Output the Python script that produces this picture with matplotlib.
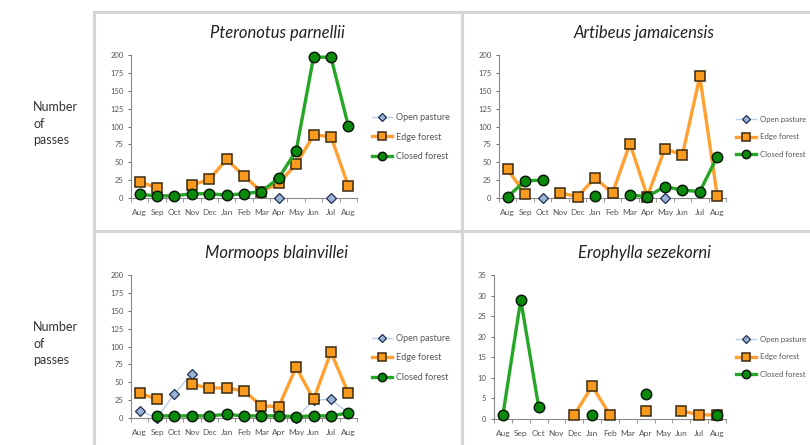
import numpy as np
import matplotlib
matplotlib.use("Agg")
import matplotlib.pyplot as plt
from matplotlib.lines import Line2D

nan = np.nan
months = ["Aug", "Sep", "Oct", "Nov", "Dec", "Jan", "Feb", "Mar", "Apr", "May", "Jun", "Jul", "Aug"]
series_names = ["Open pasture", "Edge forest", "Closed forest"]

# Pteronotus parnellii
pp_open = [nan, nan, nan, nan, nan, nan, nan, nan, 0, nan, nan, 0, nan]
pp_edge = [23, 14, nan, 18, 26, 54, 31, 9, 21, 47, 88, 86, 17]
pp_closed = [5, 3, 3, 6, 6, 4, 6, 9, 28, 66, 197, 197, 101]

# Artibeus jamaicensis
aj_open = [nan, nan, 0, nan, nan, nan, nan, nan, nan, 0, nan, nan, nan]
aj_edge = [40, 5, nan, 7, 2, 28, 7, 76, 2, 69, 60, 170, 3]
aj_closed = [2, 24, 25, nan, nan, 3, nan, 4, 2, 16, 11, 9, 58]

# Mormoops blainvillei
mb_open = [10, 0, 34, 62, nan, nan, nan, nan, nan, 0, 25, 26, 7]
mb_edge = [35, 26, nan, 47, 42, 42, 38, 17, 16, 71, 26, 92, 35]
mb_closed = [nan, 3, 3, 3, 3, 5, 3, 3, 3, 2, 3, 3, 7]

# Erophylla sezekorni
es_open = [nan] * 13
es_edge = [nan, nan, nan, nan, 1, 8, 1, nan, 2, nan, 2, 1, 1]
es_closed = [1, 29, 3, nan, nan, 1, nan, nan, 6, nan, nan, nan, 1]

titles = ["Pteronotus parnellii", "Artibeus jamaicensis", "Mormoops blainvillei", "Erophylla sezekorni"]

W, H = 810, 445
fig = plt.figure(figsize=(W / 100, H / 100), dpi=100)
fig.patch.set_facecolor("white")
FONT = "Lato"

def px_axes(left, top, right, bottom):
    return fig.add_axes([left / W, 1 - bottom / H, (right - left) / W, (bottom - top) / H])

# panel borders
border_col = "#d6d6d6"
for (x0, y0, x1, y1) in [(93.5, 12, 93.5, 445), (461.5, 12, 461.5, 445), (93.5, 12, 810, 12), (93.5, 231.5, 810, 231.5)]:
    fig.add_artist(Line2D([x0 / W, x1 / W], [1 - y0 / H, 1 - y1 / H], color=border_col, lw=2.2))

styles = [
    dict(color="#b8cde6", lw=1.0, marker="D", ms=5.5, mfc="#9bb3d4", mec="#1f2f55", mew=0.9),
    dict(color="#ffa030", lw=2.4, marker="s", ms=7, mfc="#f79a1e", mec="#3b2a10", mew=1.1),
    dict(color="#26a626", lw=2.4, marker="o", ms=7.5, mfc="#0a8a0a", mec="#0a1a0a", mew=1.1),
]

panels = [
    ((131, 55, 357, 198), (pp_open, pp_edge, pp_closed), 200, 25, (277, 33), (372, 137), 6.5),
    ((499, 55, 726, 198), (aj_open, aj_edge, aj_closed), 200, 25, (644, 33), (736, 137), 5.6),
    ((131, 275, 357, 418), (mb_open, mb_edge, mb_closed), 200, 25, (277, 253), (372, 358), 6.5),
    ((494, 275, 726, 419), (es_open, es_edge, es_closed), 35, 5, (644, 253), (736, 357), 5.6),
]

x = np.arange(len(months))
for i, (rect, data, ymax, ystep, tpos, lpos, lfs) in enumerate(panels):
    ax = px_axes(*rect)
    handles = []
    for k, (vals, st, name) in enumerate(zip(data, styles, series_names)):
        h, = ax.plot(x, vals, label=name, zorder=3 + k, clip_on=False, **st)
        handles.append(h)
    ax.set_xlim(-0.5, len(months) - 0.5)
    ax.set_ylim(0, ymax)
    ax.set_yticks(np.arange(0, ymax + 1, ystep))
    ax.set_xticks(x)
    ax.set_xticklabels(months)
    ax.set_xticks(np.arange(-0.5, len(months), 1), minor=True)
    ax.tick_params(axis="x", which="major", length=0, labelsize=6, colors="#555555", pad=8)
    ax.tick_params(axis="x", which="minor", length=3, color="#888888", width=0.6)
    ax.tick_params(axis="y", length=2.5, labelsize=5.5, colors="#555555", width=0.6, pad=3)
    for lab in ax.get_xticklabels() + ax.get_yticklabels():
        lab.set_fontfamily(FONT)
    for s in ["top", "right"]:
        ax.spines[s].set_visible(False)
    for s in ["left", "bottom"]:
        ax.spines[s].set_color("#888888")
        ax.spines[s].set_linewidth(0.8)
    ax.patch.set_alpha(0)
    fig.text(tpos[0] / W, 1 - tpos[1] / H, titles[i], ha="center", va="center",
             fontsize=12, style="italic", family=FONT, color="#222222")
    leg = ax.legend(handles=handles, loc="center left",
                    bbox_to_anchor=(lpos[0] / W, 1 - lpos[1] / H), bbox_transform=fig.transFigure,
                    frameon=False, labelspacing=1.15 * 6.5 / lfs, handlelength=2.2 * 6.5 / lfs,
                    handletextpad=0.5, borderaxespad=0, borderpad=0,
                    prop={"family": FONT, "size": lfs})
    for t in leg.get_texts():
        t.set_color("#555555")
    for lh in leg.legend_handles:
        lh.set_markersize(lh.get_markersize() * 0.8)

for ytop in (101, 321):
    fig.text(33 / W, 1 - ytop / H, "Number\nof\npasses", ha="left", va="top",
             fontsize=9, family=FONT, color="#333333", linespacing=1.45)

fig.savefig("out.png", dpi=100, facecolor="white")
